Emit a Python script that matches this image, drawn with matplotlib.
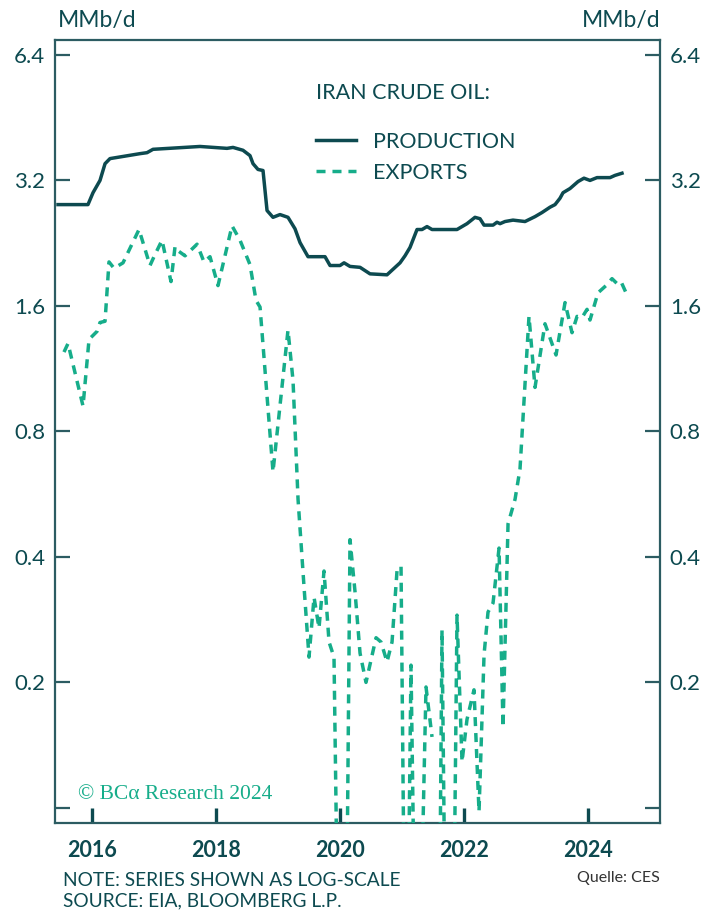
import numpy as np
import matplotlib
matplotlib.use("Agg")
import matplotlib.pyplot as plt
from matplotlib.ticker import FixedLocator, NullLocator

# ---------------- data ----------------
prod_dates = [2015.452, 2015.935, 2016.016, 2016.129, 2016.210, 2016.290, 2016.774, 2016.887,
              2016.984, 2017.742, 2018.177, 2018.274, 2018.435, 2018.548, 2018.597, 2018.677,
              2018.758, 2018.823, 2018.919, 2019.032, 2019.161, 2019.274, 2019.355, 2019.484,
              2019.758, 2019.839, 2020.000, 2020.065, 2020.161, 2020.323, 2020.484, 2020.758,
              2020.968, 2021.048, 2021.129, 2021.242, 2021.323, 2021.403, 2021.484, 2021.887,
              2022.048, 2022.177, 2022.258, 2022.323, 2022.468, 2022.532, 2022.581, 2022.661,
              2022.790, 2022.984, 2023.145, 2023.258, 2023.387, 2023.468, 2023.548, 2023.597,
              2023.710, 2023.839, 2023.935, 2024.032, 2024.145, 2024.355, 2024.435, 2024.548]
prod_values = [2.80, 2.80, 2.99, 3.20, 3.51, 3.61, 3.71, 3.73,
               3.80, 3.86, 3.82, 3.84, 3.78, 3.67, 3.51, 3.40,
               3.38, 2.71, 2.61, 2.65, 2.61, 2.45, 2.27, 2.10,
               2.10, 2.00, 2.00, 2.03, 1.99, 1.98, 1.91, 1.90,
               2.03, 2.11, 2.21, 2.44, 2.44, 2.48, 2.44, 2.44,
               2.52, 2.61, 2.59, 2.50, 2.50, 2.54, 2.52, 2.55,
               2.57, 2.55, 2.62, 2.68, 2.76, 2.80, 2.90, 2.99,
               3.06, 3.18, 3.24, 3.20, 3.25, 3.25, 3.29, 3.33]

exp_dates = [2015.548, 2015.613, 2015.855, 2015.952, 2016.081, 2016.129, 2016.210, 2016.274,
             2016.355, 2016.500, 2016.758, 2016.935, 2017.000, 2017.129, 2017.274, 2017.339,
             2017.387, 2017.500, 2017.694, 2017.806, 2017.903, 2018.032, 2018.258, 2018.387,
             2018.548, 2018.645, 2018.710, 2018.919, 2019.161, 2019.242, 2019.323, 2019.419,
             2019.500, 2019.581, 2019.661, 2019.742, 2019.823, 2019.903, 2020.000, 2020.081,
             2020.161, 2020.242, 2020.323, 2020.419, 2020.581, 2020.661, 2020.758, 2020.839,
             2020.919, 2020.984, 2021.065, 2021.145, 2021.242, 2021.387, 2021.484, 2021.540,
             2021.581, 2021.645, 2021.726, 2021.806, 2021.887, 2021.968, 2022.048, 2022.161,
             2022.242, 2022.323, 2022.387, 2022.468, 2022.565, 2022.629, 2022.710, 2022.823,
             2022.903, 2023.048, 2023.145, 2023.306, 2023.484, 2023.629, 2023.742, 2023.823,
             2023.903, 2023.984, 2024.032, 2024.161, 2024.290, 2024.387, 2024.468, 2024.532,
             2024.629]
exp_values = [1.24, 1.30, 0.92, 1.33, 1.39, 1.46, 1.47, 2.04,
              1.97, 2.03, 2.44, 2.00, 2.10, 2.30, 1.83, 2.22,
              2.17, 2.11, 2.25, 2.04, 2.10, 1.79, 2.49, 2.30,
              2.01, 1.65, 1.59, 0.64, 1.40, 1.06, 0.55, 0.34,
              0.23, 0.32, 0.27, 0.37, 0.25, 0.23, 0.02, 0.02,
              0.44, 0.33, 0.235, 0.20, 0.256, 0.25, 0.224, 0.25,
              0.37, 0.38, 0.02, 0.22, 0.02, 0.195, 0.148, np.nan,
              0.02, 0.267, 0.02, 0.02, 0.29, 0.129, 0.163, 0.192,
              0.098, 0.233, 0.295, 0.31, 0.42, 0.156, 0.48, 0.55,
              0.65, 1.51, 1.02, 1.45, 1.22, 1.63, 1.38, 1.51,
              1.50, 1.57, 1.48, 1.72, 1.79, 1.86, 1.81, 1.83,
              1.70]

y_ticks = [0.1, 0.2, 0.4, 0.8, 1.6, 3.2, 6.4]
y_tick_labels = ["", "0.2", "0.4", "0.8", "1.6", "3.2", "6.4"]
x_ticks = [2016, 2018, 2020, 2022, 2024]
x_tick_labels = ["2016", "2018", "2020", "2022", "2024"]

# ---------------- style ----------------
DARK = "#0d4a50"
GREEN = "#16ad8a"
SPINE = "#2c5c62"
FONT = ["Lato", "DejaVu Sans"]
plt.rcParams["font.family"] = FONT

fig = plt.figure(figsize=(7.18, 9.10), dpi=100)
ax = fig.add_axes([55 / 718, 1 - 823 / 910, 605 / 718, 783 / 910])

ax.plot(prod_dates, prod_values, color=DARK, lw=2.5, solid_joinstyle="round",
        label="PRODUCTION", zorder=3)
ax.plot(exp_dates, exp_values, color=GREEN, lw=2.5, dashes=(2.6, 2.0),
        dash_capstyle="butt", label="EXPORTS", zorder=3)

ax.set_yscale("log")
ax.set_ylim(0.092, 6.95)
ax.set_xlim(2015.403, 2025.161)

ax.yaxis.set_major_locator(FixedLocator(y_ticks))
ax.yaxis.set_minor_locator(NullLocator())
ax.set_yticklabels(y_tick_labels)
ax.set_xticks(x_ticks)
ax.set_xticklabels(x_tick_labels)

ax.tick_params(axis="y", which="both", direction="in", length=11, width=1.6,
               color=SPINE, labelsize=16, labelcolor=DARK, left=True, right=True,
               labelleft=True, labelright=True, pad=7)
ax.tick_params(axis="x", direction="in", length=11, width=2.4, color=DARK,
               labelsize=15.5, labelcolor=DARK, pad=12)
for lab in ax.get_xticklabels():
    lab.set_fontweight("bold")

for sp in ax.spines.values():
    sp.set_color(SPINE)
    sp.set_linewidth(1.6)

# unit labels
fig.text(58 / 718, 1 - 20 / 910, "MMb/d", ha="left", va="center", fontsize=16.5, color=DARK)
fig.text(660 / 718, 1 - 20 / 910, "MMb/d", ha="right", va="center", fontsize=16.5, color=DARK)

# legend
ax.text(0.4314, 0.932, "IRAN CRUDE OIL:", transform=ax.transAxes, ha="left", va="center",
        fontsize=15.5, color=DARK)
leg = ax.legend(loc="upper left", bbox_to_anchor=(0.4314, 0.8825), frameon=False,
                fontsize=15.5, handlelength=1.86, handletextpad=0.8, labelspacing=0.5,
                borderpad=0, borderaxespad=0)
for t in leg.get_texts():
    t.set_color(DARK)

# watermark
ax.text(0.038, 0.036, "\u00a9 BC\u03b1 Research 2024", transform=ax.transAxes, ha="left",
        va="center", fontsize=15.5, color=GREEN, family=["Liberation Serif", "DejaVu Serif"])

# notes
fig.text(63 / 718, 1 - 880 / 910, "NOTE: SERIES SHOWN AS LOG-SCALE", ha="left", va="center",
         fontsize=13.8, color=DARK)
fig.text(63 / 718, 1 - 901 / 910, "SOURCE: EIA, BLOOMBERG L.P.", ha="left", va="center",
         fontsize=13.8, color=DARK)
fig.text(660 / 718, 1 - 878 / 910, "Quelle: CES", ha="right", va="center",
         fontsize=11.5, color="#333333")

fig.savefig("out.png", dpi=100)
